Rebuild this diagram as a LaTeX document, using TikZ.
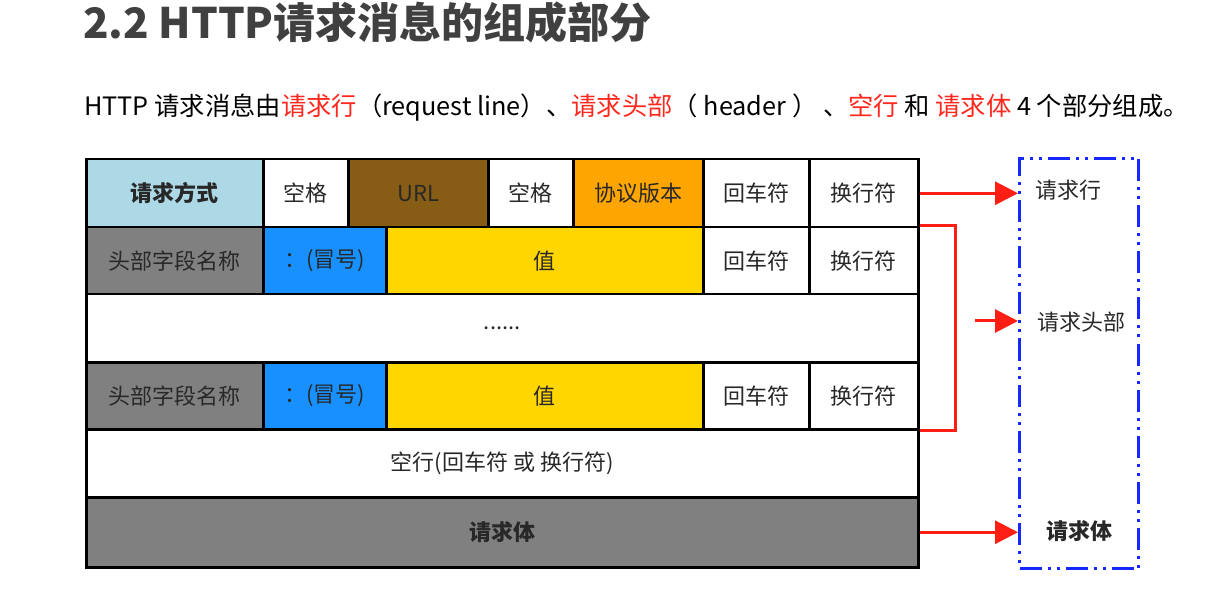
\documentclass[tikz,border=0pt]{standalone}
\usepackage{fontspec}
\setmainfont{Noto Sans CJK SC}
\usetikzlibrary{arrows.meta}
\definecolor{lblue}{RGB}{173,216,230}
\definecolor{urlbrown}{RGB}{135,92,20}
\definecolor{porange}{RGB}{255,165,0}
\definecolor{pgold}{RGB}{255,214,0}
\definecolor{pblue}{RGB}{24,144,255}
\definecolor{pgray}{RGB}{128,128,128}
\definecolor{txt}{RGB}{40,40,40}
\definecolor{titlec}{RGB}{64,64,64}
\definecolor{hred}{RGB}{255,40,30}
\definecolor{arrred}{RGB}{255,30,20}
\definecolor{boxblue}{RGB}{20,40,255}
\begin{document}
\begin{tikzpicture}[x=1pt,y=-1pt,
  cell/.style={draw=black, line width=2.5pt, anchor=north west, inner sep=0pt, text=txt,
    font=\fontsize{22}{22}\selectfont},
  redarrow/.style={draw=arrred, line width=3pt, -{Triangle[length=23pt,width=23pt]}},
  redline/.style={draw=arrred, line width=3pt},
  sidelabel/.style={text=txt, font=\fontsize{22}{22}\selectfont, inner sep=0pt}]
\useasboundingbox (0,0) rectangle (1212,601);
\fill[white] (0,0) rectangle (1212,601);
% title
\node[anchor=west, inner sep=0pt, text=titlec, font=\fontsize{42}{42}\selectfont\bfseries] (title) at (83,23) {2.2 HTTP请求消息的组成部分};
% subtitle
\node[anchor=west, inner sep=0pt, text=black, font=\fontsize{25.3}{25.3}\selectfont] (sub) at (84,108)
 {HTTP 请求消息由\textcolor{hred}{请求行}（request line）、\textcolor{hred}{请求头部}（ header ） 、\textcolor{hred}{空行} 和 \textcolor{hred}{请求体} 4 个部分组成。};
% row 1
\node[cell, fill=lblue, minimum width=177pt, minimum height=68pt] (a1) at (85,158) {\bfseries 请求方式};
\node[cell, fill=white, minimum width=85pt, minimum height=68pt] (a2) at (262,158) {空格};
\node[cell, fill=urlbrown, minimum width=140pt, minimum height=68pt] (a3) at (347,158) {URL};
\node[cell, fill=white, minimum width=85pt, minimum height=68pt] (a4) at (487,158) {空格};
\node[cell, fill=porange, minimum width=130pt, minimum height=68pt] (a5) at (572,158) {协议版本};
\node[cell, fill=white, minimum width=106pt, minimum height=68pt] (a6) at (702,158) {回车符};
\node[cell, fill=white, minimum width=109pt, minimum height=68pt] (a7) at (808,158) {换行符};
% row 2
\node[cell, fill=pgray, minimum width=177pt, minimum height=67pt] (b1) at (85,226) {头部字段名称};
\node[cell, fill=pblue, minimum width=123pt, minimum height=67pt] (b2) at (262,226) {：(冒号)};
\node[cell, fill=pgold, minimum width=317pt, minimum height=67pt] (b3) at (385,226) {值};
\node[cell, fill=white, minimum width=106pt, minimum height=67pt] (b4) at (702,226) {回车符};
\node[cell, fill=white, minimum width=109pt, minimum height=67pt] (b5) at (808,226) {换行符};
% row 3
\node[cell, fill=white, minimum width=832pt, minimum height=68pt] (c) at (85,293) {......};
% row 4
\node[cell, fill=pgray, minimum width=177pt, minimum height=67pt] (d1) at (85,361) {头部字段名称};
\node[cell, fill=pblue, minimum width=123pt, minimum height=67pt] (d2) at (262,361) {：(冒号)};
\node[cell, fill=pgold, minimum width=317pt, minimum height=67pt] (d3) at (385,361) {值};
\node[cell, fill=white, minimum width=106pt, minimum height=67pt] (d4) at (702,361) {回车符};
\node[cell, fill=white, minimum width=109pt, minimum height=67pt] (d5) at (808,361) {换行符};
% row 5
\node[cell, fill=white, minimum width=832pt, minimum height=68pt] (e) at (85,428) {空行(回车符 或 换行符)};
% row 6
\node[cell, fill=pgray, minimum width=832pt, minimum height=70pt] (f) at (85,496) {\bfseries 请求体};
% side box
\node[draw=boxblue, line width=3pt, dash pattern=on 22pt off 6pt on 3pt off 6pt on 3pt off 6pt,
  anchor=north west, minimum width=119pt, minimum height=410pt, inner sep=0pt] (side) at (1018,157) {};
\node[sidelabel] (l1) at (1068,190) {请求行};
\node[sidelabel] (l2) at (1081,322) {请求头部};
\node[sidelabel] (l3) at (1079,531) {\bfseries 请求体};
% connectors
\draw[redarrow] (a7.east) -- (a7.east -| side.west);
\draw[redline] (b5.north east) -- ++(36,0) coordinate (bt) -- (bt |- d5.south east) -- (d5.south east);
\coordinate (h2) at (975,321);
\draw[redarrow] (h2) -- (h2 -| side.west);
\draw[redarrow] (f.east) -- (f.east -| side.west);
\end{tikzpicture}
\end{document}
